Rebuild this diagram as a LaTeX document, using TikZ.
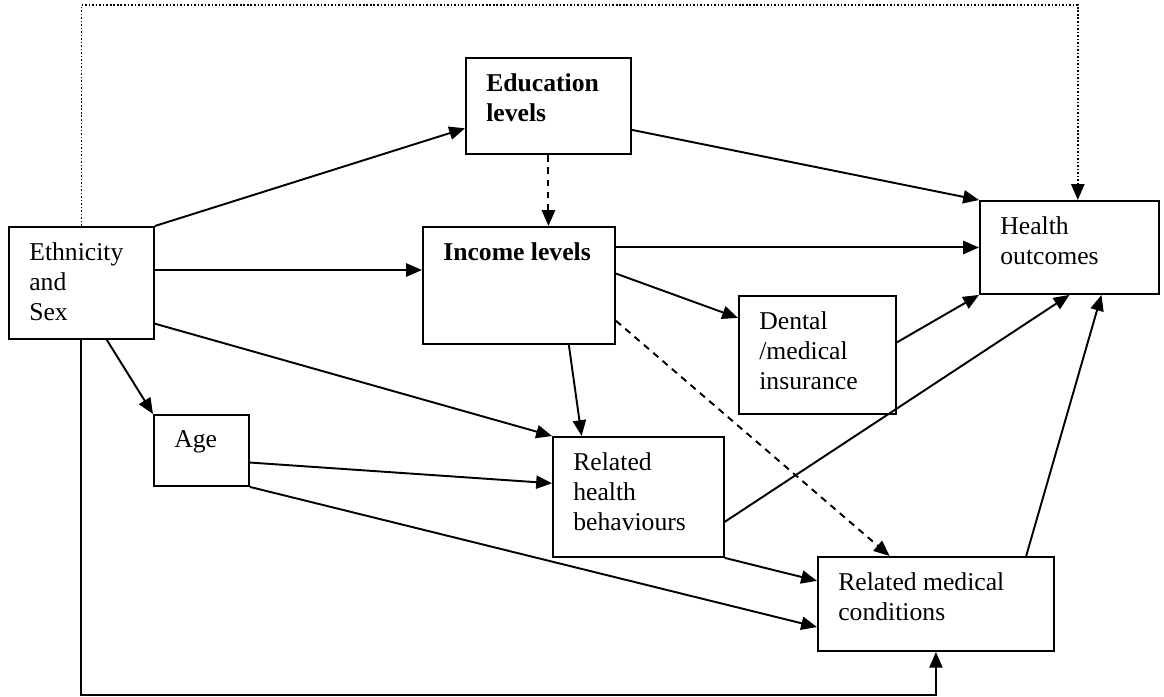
\documentclass[tikz,border=0pt]{standalone}
\usepackage{fontspec}
\setmainfont{Liberation Serif}
\usetikzlibrary{arrows.meta}

\begin{document}
\begin{tikzpicture}[x=0.02cm, y=-0.02cm,
    every node/.style={font=\fontsize{14.6}{17.3}\selectfont},
    box/.style={draw, line width=1.1pt, anchor=north west, inner sep=0pt},
    boxtxt/.style={anchor=north west, align=left, inner sep=0pt, xshift=0.42cm, yshift=-0.32cm},
    arr/.style={line width=1.1pt, -{Triangle[length=9pt, width=7.5pt]}},
    dasharr/.style={arr, dash pattern=on 3.8pt off 3.2pt},
    dotarr/.style={arr, line width=0.9pt, dash pattern=on 0.9pt off 1.1pt}]
    \useasboundingbox (0,0) rectangle (1164,697);

    \node [box, minimum width=2.90cm, minimum height=2.24cm, label={[boxtxt]north west:{Ethnicity\\and\\Sex}}] (eth) at (8,226) {};
    \node [box, minimum width=3.30cm, minimum height=1.92cm, label={[boxtxt]north west:{\bfseries Education\\\bfseries levels}}] (edu) at (465,57) {};
    \node [box, minimum width=3.84cm, minimum height=2.34cm, label={[boxtxt]north west:{\bfseries Income levels}}] (inc) at (422,226) {};
    \node [box, minimum width=3.58cm, minimum height=1.86cm, label={[boxtxt]north west:{Health\\outcomes}}] (hlth) at (979,200) {};
    \node [box, minimum width=3.14cm, minimum height=2.36cm, label={[boxtxt]north west:{Dental\\/medical\\insurance}}] (dent) at (738,295) {};
    \node [box, minimum width=1.90cm, minimum height=1.42cm, label={[boxtxt]north west:{Age}}] (age) at (153,414) {};
    \node [box, minimum width=3.42cm, minimum height=2.40cm, label={[boxtxt]north west:{Related\\health\\behaviours}}] (rhb) at (552,436) {};
    \node [box, minimum width=4.72cm, minimum height=1.88cm, label={[boxtxt]north west:{Related medical\\conditions}}] (rmc) at (817,556) {};

    \coordinate (topline) at (600,5);
    \coordinate (botline) at (500,695);

    \draw [arr] (eth.north east) -- (edu.195);
    \draw [arr] (eth.10) -- (eth.10 -| inc.west);
    \draw [arr] (eth.-29) -- (rhb.north west);
    \draw [arr] (eth.-66) -- (age.north west);
    \draw [arr] (edu.-16) -- (hlth.north west);
    \draw [dasharr] (edu.south) -- (edu.south |- inc.north);
    \draw [arr] (inc.east |- hlth.west) -- (hlth.west);
    \draw [arr] (inc.7) -- (dent.155);
    \draw [arr] (inc.-50) -- (rhb.133);
    \draw [dasharr] (inc.-20) -- (rmc.134);
    \draw [arr] (dent.9) -- (hlth.south west);
    \draw [arr] (rhb.-16) -- (hlth.south);
    \draw [arr] (rmc.28) -- (hlth.-56);
    \draw [arr] (age.-14) -- (rhb.171);
    \draw [arr] (rhb.south east) -- (rmc.169);
    \draw [arr] (age.south east) -- (rmc.191);
    \draw [dotarr] (eth.north) |- (topline) -| (hlth.80);
    \draw [arr] (eth.south) |- (botline) -| (rmc.south);
\end{tikzpicture}
\end{document}
